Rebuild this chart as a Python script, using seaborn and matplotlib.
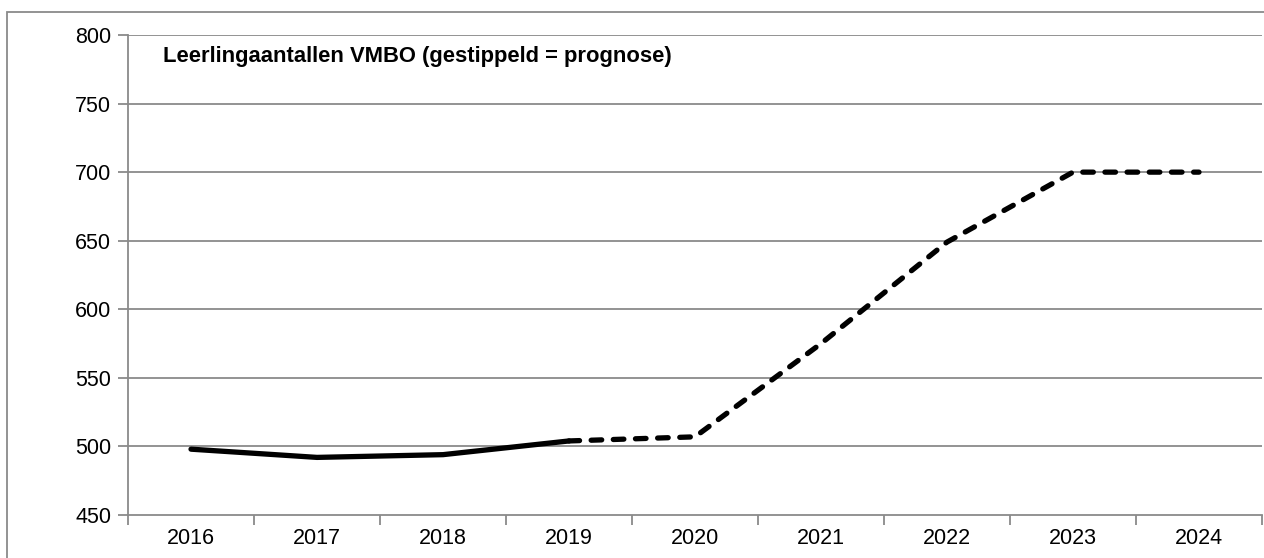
import matplotlib
matplotlib.use("Agg")
import matplotlib.pyplot as plt
import seaborn as sns
import pandas as pd
from matplotlib.patches import Rectangle

years = ["2016", "2017", "2018", "2019", "2020", "2021", "2022", "2023", "2024"]
students = [498, 492, 494, 504, 507, 575, 649, 700, 700]
n_actual = 4  # 2016-2019 are measured counts, the rest is the forecast
title = "Leerlingaantallen VMBO (gestippeld = prognose)"
y_ticks = [450, 500, 550, 600, 650, 700, 750, 800]

sns.set_theme(style="white")
plt.rcParams["font.family"] = ["Liberation Sans", "DejaVu Sans"]

df = pd.DataFrame({"pos": range(len(years)), "year": years, "n": students})
actual = df.iloc[:n_actual]
forecast = df.iloc[n_actual - 1:]

fig = plt.figure(figsize=(12.64, 5.58), dpi=100)
ax = fig.add_axes([128 / 1264, 1 - 515 / 558, 1134 / 1264, 480 / 558])

grid_c = "#8a8a8a"
for v in y_ticks[1:]:
    ax.axhline(v, color=grid_c, lw=1.3, zorder=0)

sns.lineplot(data=actual, x="pos", y="n", ax=ax, color="black", lw=3.8,
             solid_capstyle="round", solid_joinstyle="round", zorder=3)
sns.lineplot(data=forecast, x="pos", y="n", ax=ax, color="black", lw=3.8,
             dashes=False, zorder=3)
ax.lines[-1].set_dashes((2.0, 2.2))
ax.lines[-1].set_dash_capstyle("round")
ax.lines[-1].set_dash_joinstyle("round")

tick_fs = 15.5
ax.set_xlim(-0.5, len(years) - 0.5)
ax.set_ylim(450, 800)
ax.set_yticks(y_ticks)
ax.set_yticklabels([str(v) for v in y_ticks], fontsize=tick_fs, color="black")
ax.set_xticks(range(len(years)))
ax.set_xticklabels(years, fontsize=tick_fs, color="black")
ax.set_xticks([i - 0.5 for i in range(len(years) + 1)], minor=True)
ax.tick_params(axis="x", which="major", length=0, pad=9)
ax.tick_params(axis="x", which="minor", length=7, width=1.3, color=grid_c, direction="out", bottom=True)
ax.tick_params(axis="y", which="major", length=7, width=1.3, color=grid_c, direction="out", left=True, pad=5)
ax.set_xlabel("")
ax.set_ylabel("")

for side in ["top", "right"]:
    ax.spines[side].set_visible(False)
for side in ["left", "bottom"]:
    ax.spines[side].set_color(grid_c)
    ax.spines[side].set_linewidth(1.3)

ax.text(35 / 1134, 0.978, title, transform=ax.transAxes, fontsize=15.8,
        fontweight="bold", ha="left", va="top", color="black")

# outer chart frame
fig.patches.append(Rectangle((7 / 1264, -0.1), 1.2, 1 - 12 / 558 + 0.1,
                             transform=fig.transFigure, fill=False,
                             edgecolor="#8a8a8a", lw=1.3))

fig.savefig("out.png", dpi=100, facecolor="white")
